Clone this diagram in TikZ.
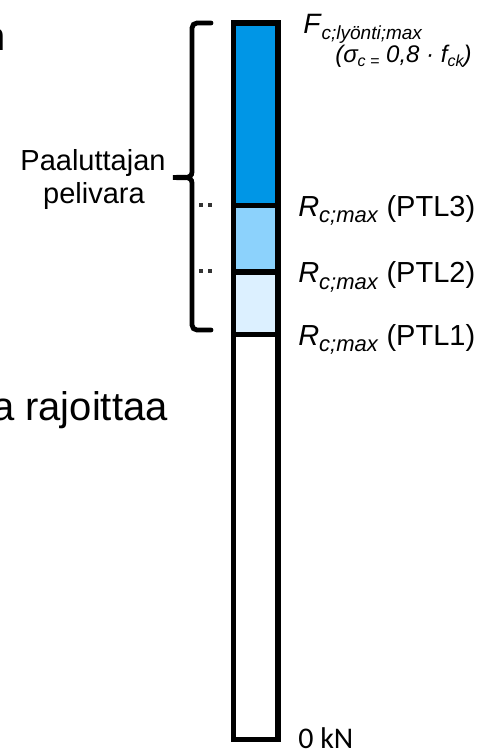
\documentclass[tikz,border=0pt]{standalone}
\usepackage{fontspec}
\setmainfont{Liberation Sans}
\newfontfamily\calfont{Carlito}
\usepackage{xcolor}
\usepackage{tikz}
\usetikzlibrary{positioning}
\definecolor{pdark}{RGB}{0,150,230}
\definecolor{pmid}{RGB}{140,210,252}
\definecolor{plight}{RGB}{220,240,255}
\newcommand{\fsz}[1]{\fontsize{#1}{#1}\selectfont}
\newcommand{\rmaxlab}[1]{\textit{R}\raisebox{-4.9pt}{\fsz{16.5}\textit{c;max}} (PTL#1)}
\tikzset{
	seg/.style={
			draw,
			rectangle,
			line width=4.1pt,
			inner sep=0pt,
			outer sep=0pt,
			minimum width=33.4pt
		},
	pelibrace/.style={line width=3.6pt, line cap=round},
	dotmark/.style={line width=3pt, color=black!80, dash pattern=on 2.8pt off 4pt},
	txt/.style={inner sep=0pt, font=\fsz{21.75}}
}

\begin{document}
\begin{tikzpicture}[x=0.75pt, y=-0.75pt]
		\useasboundingbox (0,0) rectangle (479,750);
		\clip (0,0) rectangle (479,750);

		% Pillar
		\node[seg,
			fill=pdark,
			minimum height=136.9pt,
			anchor=north
		] (ptl3) at (255.75,23) {};

		\node[seg,
			fill=pmid,
			minimum height=49.9pt,
			below=0pt of ptl3
		] (ptl2) {};

		\node[seg,
			fill=plight,
			minimum height=46.9pt,
			below=0pt of ptl2
		] (ptl1) {};

		\node[seg,
			fill=white,
			minimum height=303.8pt,
			below=0pt of ptl1
		] (zero) {};

		% Labels on the right
		\node[txt, anchor=base west] (fmax) at (303,33)
		{\fsz{21}\textit{F}\raisebox{-5.2pt}{\fsz{14.25}\textit{c;lyönti;max}}};
		\node[txt, anchor=base west] (sigma) at (335,62)
		{\fsz{18}\itshape(σ\raisebox{-3pt}{\fsz{12}c =} 0,8 · f\raisebox{-3pt}{\fsz{12}ck})};

		\node[txt, anchor=base west] (r3) at (298,216) {\rmaxlab{3}};
		\node[txt, anchor=base west] (r2) at (298,282.5) {\rmaxlab{2}};
		\node[txt, anchor=base west] (r1) at (298,345) {\rmaxlab{1}};

		\node[txt, anchor=base west] (nolla) at (298,748) {\calfont\fsz{22.5}0 kN};

		% Bracket
		\coordinate (btop) at (211,23);
		\coordinate (btip) at (173,177.5);
		\coordinate (bbot) at (211,330);
		\draw[pelibrace] (btop) -- (197,23) to[out=180,in=90] (192,28)
		-- (192,172) to[out=-90,in=0] (btip)
		to[out=0,in=90] (192,183) -- (192,325)
		to[out=-90,in=180] (197,330) -- (bbot);

		\node[txt, anchor=base] (paal) at (93,170) {Paaluttajan};
		\node[txt, anchor=base] (peli) at (94,203) {pelivara};

		% Dotted marks
		\coordinate (d3) at (199,205);
		\coordinate (d2) at (199,271);
		\draw[dotmark] (d3) -- (213,205);
		\draw[dotmark] (d2) -- (213,271);

		% Text cut at the left edge
		\node[txt, anchor=base east] (ncut) at (5.6,50) {\fsz{30}n};
		\node[txt, anchor=base east] (rajoit) at (168,420) {\fsz{30}a rajoittaa};
	\end{tikzpicture}
\end{document}
